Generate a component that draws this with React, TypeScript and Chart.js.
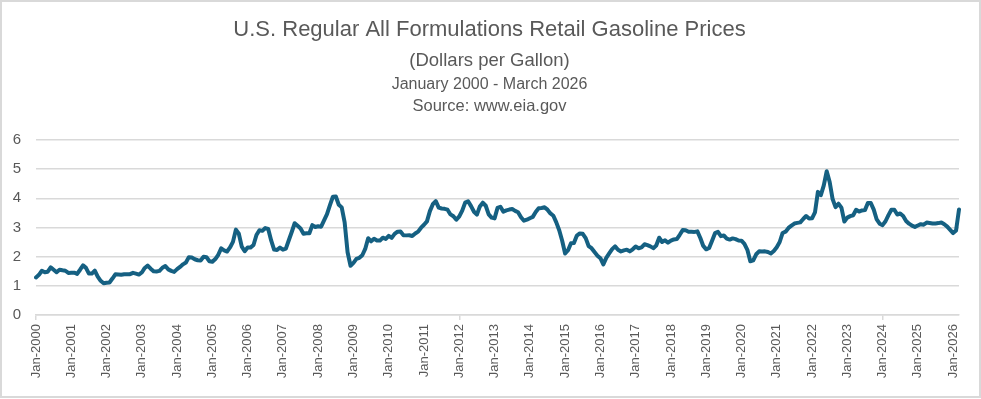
import React, { useEffect, useRef } from 'react';
import { Chart, registerables } from 'chart.js';

Chart.register(...registerables);

// ---- Data ----
const monthNames = ['Jan', 'Feb', 'Mar', 'Apr', 'May', 'Jun', 'Jul', 'Aug', 'Sep', 'Oct', 'Nov', 'Dec'];
const years = [2000, 2001, 2002, 2003, 2004, 2005, 2006, 2007, 2008, 2009, 2010, 2011, 2012, 2013,
  2014, 2015, 2016, 2017, 2018, 2019, 2020, 2021, 2022, 2023, 2024, 2025, 2026];

// U.S. regular all formulations retail gasoline price, dollars per gallon, monthly Jan 2000 - Mar 2026
const prices = [
  // 2000
  1.289, 1.377, 1.517, 1.465, 1.485, 1.633, 1.551, 1.465, 1.550, 1.532, 1.517, 1.443,
  // 2001
  1.447, 1.450, 1.409, 1.552, 1.702, 1.616, 1.421, 1.421, 1.522, 1.315, 1.171, 1.086,
  // 2002
  1.107, 1.114, 1.249, 1.397, 1.392, 1.382, 1.397, 1.396, 1.400, 1.445, 1.419, 1.386,
  // 2003
  1.458, 1.613, 1.693, 1.589, 1.497, 1.493, 1.513, 1.620, 1.679, 1.564, 1.512, 1.479,
  // 2004
  1.572, 1.648, 1.736, 1.798, 1.983, 1.969, 1.911, 1.878, 1.870, 2.000, 1.979, 1.841,
  // 2005
  1.823, 1.918, 2.065, 2.283, 2.216, 2.176, 2.316, 2.506, 2.927, 2.785, 2.343, 2.186,
  // 2006
  2.315, 2.311, 2.401, 2.744, 2.907, 2.885, 2.981, 2.952, 2.555, 2.245, 2.229, 2.313,
  // 2007
  2.240, 2.278, 2.563, 2.845, 3.146, 3.056, 2.965, 2.786, 2.803, 2.803, 3.080, 3.018,
  // 2008
  3.043, 3.028, 3.244, 3.458, 3.766, 4.054, 4.062, 3.779, 3.690, 3.176, 2.151, 1.690,
  // 2009
  1.788, 1.923, 1.959, 2.049, 2.266, 2.631, 2.527, 2.616, 2.554, 2.551, 2.651, 2.607,
  // 2010
  2.715, 2.644, 2.781, 2.855, 2.860, 2.737, 2.730, 2.733, 2.707, 2.793, 2.857, 2.993,
  // 2011
  3.095, 3.211, 3.561, 3.800, 3.906, 3.680, 3.650, 3.639, 3.611, 3.448, 3.384, 3.266,
  // 2012
  3.380, 3.579, 3.852, 3.900, 3.732, 3.539, 3.439, 3.722, 3.849, 3.746, 3.452, 3.338,
  // 2013
  3.313, 3.670, 3.711, 3.542, 3.587, 3.615, 3.633, 3.570, 3.522, 3.350, 3.232, 3.267,
  // 2014
  3.319, 3.365, 3.532, 3.658, 3.671, 3.692, 3.611, 3.482, 3.404, 3.175, 2.907, 2.548,
  // 2015
  2.108, 2.223, 2.462, 2.469, 2.722, 2.796, 2.785, 2.636, 2.365, 2.291, 2.158, 2.035,
  // 2016
  1.947, 1.736, 1.960, 2.109, 2.257, 2.354, 2.238, 2.177, 2.217, 2.240, 2.182, 2.253,
  // 2017
  2.348, 2.288, 2.318, 2.425, 2.393, 2.352, 2.292, 2.383, 2.649, 2.503, 2.559, 2.479,
  // 2018
  2.549, 2.592, 2.604, 2.751, 2.911, 2.905, 2.853, 2.852, 2.849, 2.868, 2.639, 2.368,
  // 2019
  2.252, 2.298, 2.548, 2.806, 2.849, 2.704, 2.726, 2.621, 2.585, 2.627, 2.603, 2.555,
  // 2020
  2.548, 2.438, 2.234, 1.841, 1.874, 2.082, 2.183, 2.177, 2.183, 2.158, 2.108, 2.195,
  // 2021
  2.326, 2.503, 2.812, 2.858, 2.985, 3.064, 3.136, 3.158, 3.175, 3.291, 3.395, 3.307,
  // 2022
  3.315, 3.517, 4.222, 4.109, 4.444, 4.929, 4.559, 3.975, 3.700, 3.815, 3.681, 3.204,
  // 2023
  3.339, 3.390, 3.421, 3.606, 3.547, 3.584, 3.596, 3.840, 3.836, 3.613, 3.276, 3.129,
  // 2024
  3.082, 3.214, 3.424, 3.609, 3.607, 3.446, 3.480, 3.395, 3.225, 3.131, 3.065, 3.021,
  // 2025
  3.069, 3.114, 3.097, 3.168, 3.153, 3.136, 3.140, 3.151, 3.170, 3.110, 3.030, 2.920,
  // 2026
  2.810, 2.900, 3.620,
];

const yMin = 0;
const yMax = 6;
const yStep = 1;

const titleText = 'U.S. Regular All Formulations Retail Gasoline Prices';
const subtitleLines = ['(Dollars per Gallon)', 'January 2000 - March 2026', 'Source: www.eia.gov'];

// Category labels built from years and month names
const labels: string[] = [];
for (const y of years) {
  for (const m of monthNames) {
    if (labels.length < prices.length) labels.push(`${m}-${y}`);
  }
}

const FONT = "'Liberation Sans', Arial, sans-serif";
const TEXT_COLOR = '#595959';
const GRID_COLOR = '#d9d9d9';
const LINE_COLOR = '#156082';

const headerPlugin = {
  id: 'headerText',
  afterDraw(chart: any) {
    const ctx = chart.ctx;
    const cx = chart.width / 2 - 1;
    ctx.save();
    ctx.fillStyle = TEXT_COLOR;
    ctx.textAlign = 'center';
    ctx.textBaseline = 'middle';
    ctx.font = `22px ${FONT}`;
    ctx.fillText(titleText, cx, 28);
    ctx.font = `18.5px ${FONT}`;
    ctx.fillText(subtitleLines[0], cx, 59);
    ctx.font = `16px ${FONT}`;
    ctx.fillText(subtitleLines[1], cx, 83);
    ctx.font = `16.5px ${FONT}`;
    ctx.fillText(subtitleLines[2], cx, 104);
    ctx.restore();
  },
};

export default function App() {
  const canvasRef = useRef<HTMLCanvasElement | null>(null);

  useEffect(() => {
    if (!canvasRef.current) return;
    const chart = new Chart(canvasRef.current, {
      type: 'line',
      data: {
        labels,
        datasets: [
          {
            label: 'Regular All Formulations',
            data: prices,
            borderColor: LINE_COLOR,
            backgroundColor: LINE_COLOR,
            borderWidth: 4,
            pointRadius: 0,
            pointHoverRadius: 0,
            tension: 0,
            fill: false,
            borderJoinStyle: 'round',
            borderCapStyle: 'round',
          },
        ],
      },
      options: {
        animation: false,
        responsive: true,
        maintainAspectRatio: false,
        layout: { padding: { top: 138, right: 20, left: 0, bottom: 0 } },
        plugins: {
          legend: { display: false },
          title: { display: false },
          tooltip: { enabled: false },
        },
        scales: {
          x: {
            type: 'category',
            offset: false,
            border: { display: true, color: GRID_COLOR, width: 1.5 },
            grid: {
              drawOnChartArea: false,
              drawTicks: true,
              tickLength: 5,
              lineWidth: 1.5,
              color: (ctx: any) => (ctx.index % 12 === 0 ? GRID_COLOR : 'rgba(0,0,0,0)'),
            },
            ticks: {
              autoSkip: false,
              maxRotation: 90,
              minRotation: 90,
              padding: 4,
              color: TEXT_COLOR,
              font: { family: FONT, size: 13 },
              callback: (_v: any, i: number) => (i % 12 === 0 ? labels[i] : null),
            },
            afterFit: (s: any) => {
              s.height = 81;
            },
          },
          y: {
            min: yMin,
            max: yMax,
            border: { display: false },
            grid: { color: GRID_COLOR, lineWidth: 1.5, drawTicks: false },
            ticks: {
              stepSize: yStep,
              padding: 15,
              color: TEXT_COLOR,
              font: { family: FONT, size: 15 },
            },
            afterFit: (s: any) => {
              s.width = 34;
            },
          },
        },
      },
      plugins: [headerPlugin],
    });
    return () => chart.destroy();
  }, []);

  return (
    <div
      style={{
        position: 'fixed',
        left: 0,
        top: 0,
        width: 981,
        height: 398,
        boxSizing: 'border-box',
        border: `2px solid ${GRID_COLOR}`,
        background: '#fff',
      }}
    >
      <div style={{ position: 'relative', width: 977, height: 394 }}>
        <canvas ref={canvasRef} />
      </div>
    </div>
  );
}
